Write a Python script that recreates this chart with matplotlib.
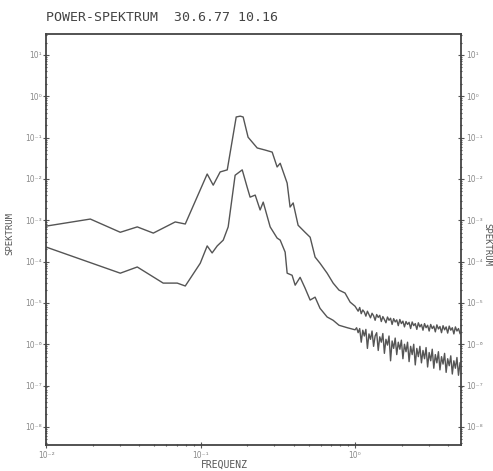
import matplotlib
matplotlib.use("Agg")
import matplotlib.pyplot as plt
import numpy as np
from matplotlib.ticker import LogLocator, NullFormatter, FixedLocator, FixedFormatter

# values, as log10(frequency) and log10(spectrum)
upper_log_f = [-2.000, -1.715, -1.521, -1.411, -1.307, -1.165, -1.100, -0.958, -0.919,
               -0.874, -0.828, -0.770, -0.744, -0.725, -0.693, -0.634, -0.583, -0.537,
               -0.505, -0.485, -0.440, -0.421, -0.401, -0.369, -0.324, -0.291, -0.259,
               -0.227, -0.181, -0.142, -0.104, -0.065, -0.032, 0.000]
upper_log_s = [-3.14, -2.97, -3.29, -3.16, -3.31, -3.04, -3.09, -1.88, -2.15,
               -1.83, -1.78, -0.50, -0.48, -0.50, -0.99, -1.25, -1.30, -1.35,
               -1.71, -1.62, -2.10, -2.68, -2.58, -3.12, -3.29, -3.41, -3.89,
               -4.04, -4.28, -4.52, -4.69, -4.76, -4.98, -5.08]

lower_log_f = [-2.000, -1.521, -1.411, -1.243, -1.152, -1.100, -1.003, -0.958, -0.926,
               -0.893, -0.854, -0.822, -0.777, -0.731, -0.699, -0.680, -0.647, -0.615,
               -0.595, -0.550, -0.505, -0.485, -0.453, -0.440, -0.408, -0.388, -0.356,
               -0.324, -0.291, -0.259, -0.227, -0.181, -0.142, -0.104, -0.050, 0.000]
lower_log_s = [-3.65, -4.28, -4.13, -4.52, -4.52, -4.59, -4.04, -3.62, -3.79,
               -3.62, -3.48, -3.16, -1.91, -1.78, -2.20, -2.44, -2.39, -2.75,
               -2.56, -3.16, -3.43, -3.48, -3.77, -4.28, -4.33, -4.57, -4.38,
               -4.64, -4.93, -4.86, -5.13, -5.34, -5.42, -5.54, -5.60, -5.65]

# noisy high-frequency part, shared frequency points
tail_log_f = [0.01, 0.02, 0.03, 0.04, 0.05, 0.06, 0.07, 0.08, 0.09, 0.10,
              0.11, 0.12, 0.13, 0.14, 0.15, 0.16, 0.17, 0.18, 0.19, 0.20,
              0.21, 0.22, 0.23, 0.24, 0.25, 0.26, 0.27, 0.28, 0.29, 0.30,
              0.31, 0.32, 0.33, 0.34, 0.35, 0.36, 0.37, 0.38, 0.39, 0.40,
              0.41, 0.42, 0.43, 0.44, 0.45, 0.46, 0.47, 0.48, 0.49, 0.50,
              0.51, 0.52, 0.53, 0.54, 0.55, 0.56, 0.57, 0.58, 0.59, 0.60,
              0.61, 0.62, 0.63, 0.64, 0.65, 0.66, 0.67, 0.68]
upper_tail_log_s = [-5.14, -5.20, -5.11, -5.26, -5.17, -5.22, -5.32, -5.20, -5.28, -5.36,
                    -5.25, -5.31, -5.42, -5.28, -5.35, -5.30, -5.45, -5.33, -5.40, -5.48,
                    -5.34, -5.42, -5.37, -5.52, -5.38, -5.46, -5.41, -5.55, -5.40, -5.50,
                    -5.44, -5.58, -5.45, -5.52, -5.47, -5.62, -5.46, -5.55, -5.50, -5.64,
                    -5.48, -5.58, -5.52, -5.66, -5.50, -5.60, -5.54, -5.68, -5.52, -5.62,
                    -5.56, -5.70, -5.53, -5.63, -5.57, -5.72, -5.55, -5.65, -5.58, -5.73,
                    -5.56, -5.66, -5.60, -5.75, -5.58, -5.68, -5.62, -5.74]
lower_tail_log_s = [-5.60, -5.72, -5.62, -5.95, -5.66, -5.80, -5.64, -6.10, -5.75, -5.88,
                    -5.68, -6.05, -5.80, -5.72, -6.15, -5.82, -5.95, -5.74, -6.22, -5.88,
                    -6.02, -5.80, -6.40, -5.92, -6.10, -5.85, -6.25, -5.95, -6.12, -5.90,
                    -6.35, -6.00, -6.18, -5.95, -6.42, -6.05, -6.25, -6.00, -6.50, -6.10,
                    -6.30, -6.05, -6.45, -6.15, -6.35, -6.08, -6.55, -6.20, -6.40, -6.12,
                    -6.58, -6.25, -6.45, -6.18, -6.62, -6.30, -6.48, -6.22, -6.68, -6.35,
                    -6.52, -6.28, -6.72, -6.40, -6.58, -6.32, -6.75, -6.45]

y_decades = [1, 0, -1, -2, -3, -4, -5, -6, -7, -8]
x_decades = [-2, -1, 0]

SUP = str.maketrans("-0123456789", "⁻⁰¹²³⁴⁵⁶⁷⁸⁹")


def exp_label(e):
    return "10" + str(e).translate(SUP)


def main():
    fig = plt.figure(figsize=(4.93, 4.71), dpi=100)
    ax = fig.add_axes([0.094, 0.055, 0.841, 0.873])
    line_col = "#555555"
    mono = "DejaVu Sans Mono"

    for lf, ls in [(upper_log_f + tail_log_f, upper_log_s + upper_tail_log_s),
                   (lower_log_f + tail_log_f, lower_log_s + lower_tail_log_s)]:
        ax.plot(10 ** np.array(lf), 10 ** np.array(ls), color=line_col, lw=1.0)

    ax.set_xscale("log")
    ax.set_yscale("log")
    ax.set_xlim(1e-2, 10 ** 0.686)
    ax.set_ylim(10 ** -8.44, 10 ** 1.51)

    ax.yaxis.set_major_locator(FixedLocator([10.0 ** e for e in y_decades]))
    ax.yaxis.set_major_formatter(FixedFormatter([exp_label(e) for e in y_decades]))
    ax.xaxis.set_major_locator(FixedLocator([10.0 ** e for e in x_decades]))
    ax.xaxis.set_major_formatter(FixedFormatter([exp_label(e) for e in x_decades]))
    ax.yaxis.set_minor_locator(LogLocator(base=10, subs=np.arange(2, 10), numticks=20))
    ax.xaxis.set_minor_locator(LogLocator(base=10, subs=np.arange(2, 10), numticks=20))
    ax.yaxis.set_minor_formatter(NullFormatter())
    ax.xaxis.set_minor_formatter(NullFormatter())

    ax.tick_params(which="both", direction="inout", colors="#555555", labelcolor="#8a8a8a",
                   labelsize=5.5, width=0.8)
    ax.tick_params(which="major", length=4)
    ax.tick_params(which="minor", length=2)
    ax.tick_params(axis="y", which="both", right=True, labelright=True, pad=1.5)
    ax.tick_params(axis="x", which="both", top=False, pad=2)

    for s in ax.spines.values():
        s.set_color("#444444")
        s.set_linewidth(1.3)

    fig.text(0.093, 0.962, "POWER-SPEKTRUM  30.6.77 10.16", family=mono, fontsize=9.5,
             color="#444444", va="center", ha="left")
    fig.text(0.020, 0.505, "SPEKTRUM", family=mono, fontsize=6.5, color="#555555",
             rotation=90, va="center", ha="center")
    fig.text(0.988, 0.48, "SPEKTRUM", family=mono, fontsize=6.5, color="#555555",
             rotation=-90, va="center", ha="center")
    fig.text(0.456, 0.013, "FREQUENZ", family=mono, fontsize=7, color="#555555",
             va="center", ha="center")

    fig.savefig("out.png", dpi=100, facecolor="white")


if __name__ == "__main__":
    main()
